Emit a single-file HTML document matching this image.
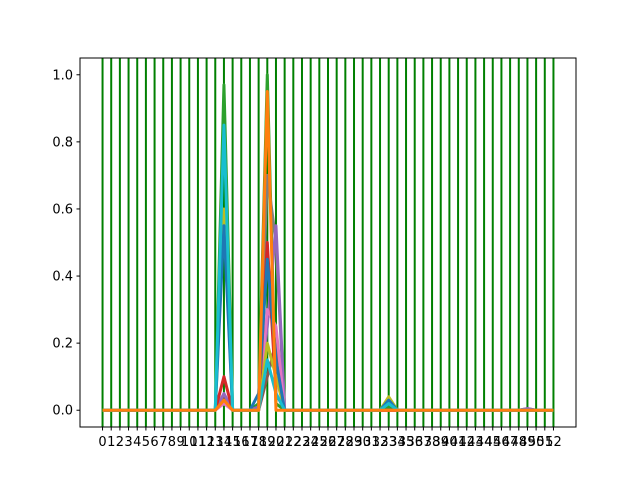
<!DOCTYPE html>
<html><head><meta charset="utf-8"><style>
body{margin:0;background:#fff}
svg{display:block;font-family:"DejaVu Sans","Liberation Sans",sans-serif}
</style></head><body>
<svg id="chart" width="640" height="480" viewBox="0 0 640 480">
<rect width="640" height="480" fill="#fff"/>
<g id="plot"></g>
</svg>
<script>
const categories = Array.from({length:53},(_,i)=>i);
const peakIdx = [14, 18, 19, 20, 33, 49];
const seriesBlue   = [0.55, 0.05, 0.45, 0.15, 0.03, 0];
const seriesCyan   = [0.85, 0.0, 0.15, 0.05, 0.02, 0];
const seriesOlive  = [0.60, 0.0, 0.20, 0.10, 0.04, 0];
const seriesGreen  = [0.97, 0.02, 1.00, 0.02, 0.01, 0];
const seriesRed    = [0.10, 0.0, 0.50, 0.05, 0, 0];
const seriesPurple = [0.05, 0.01, 0.25, 0.55, 0, 0.005];
const seriesPink   = [0.02, 0.0, 0.30, 0.25, 0, 0];
const seriesGray   = [0.03, 0.0, 0.70, 0.50, 0, 0];
const seriesBrown  = [0.04, 0.0, 0.10, 0.20, 0, 0.005];
const seriesOrange = [0.03, 0.0, 0.95, 0.0, 0, 0];
const yTicks = [0.0, 0.2, 0.4, 0.6, 0.8, 1.0];
const yTickLabels = ["0.0","0.2","0.4","0.6","0.8","1.0"];

const allSeries = [
 [seriesGreen,'#2ca02c'],[seriesGray,'#7f7f7f'],[seriesBrown,'#8c564b'],[seriesPurple,'#9467bd'],
 [seriesPink,'#e377c2'],[seriesRed,'#d62728'],[seriesOlive,'#bcbd22'],[seriesBlue,'#1f77b4'],
 [seriesCyan,'#17becf'],[seriesOrange,'#ff7f0e']];
const names=['green','gray','brown','purple','pink','red','olive','blue','cyan','orange'];

const L=80,R=576,T=58,B=427;
const xmin=-2.6,xmax=54.6,ymin=-0.05,ymax=1.05;
const xs=v=>L+(v-xmin)/(xmax-xmin)*(R-L);
const ys=v=>B-(v-ymin)/(ymax-ymin)*(B-T);
const NS='http://www.w3.org/2000/svg';
const g=document.getElementById('plot');
function mk(t,a){const e=document.createElementNS(NS,t);for(const k in a)e.setAttribute(k,a[k]);g.appendChild(e);return e;}

categories.forEach(c=>{
 const l=mk('line',{x1:xs(c),x2:xs(c),y1:T,y2:B,stroke:'#008000','stroke-width':2});
 
 
});
allSeries.forEach(([s,col],si)=>{
 const vals=categories.map(c=>{const k=peakIdx.indexOf(c);return k>=0?s[k]:0;});
 const p=mk('polyline',{points:vals.map((v,i)=>xs(categories[i])+','+ys(v)).join(' '),fill:'none',stroke:col,'stroke-width':3,'stroke-linejoin':'round'});
 
 
});
const fr=mk('rect',{x:L,y:T,width:R-L,height:B-T,fill:'none',stroke:'#000','stroke-width':1});


yTicks.forEach((v,i)=>{
 const y=ys(v);
 const t=mk('line',{x1:L-3.5,x2:L,y1:y,y2:y,stroke:'#000'});
 
 
 const tx=mk('text',{x:L-7,y:y+4.5,'text-anchor':'end','font-size':13});
 tx.textContent=yTickLabels[i];
 
 
});
categories.forEach(c=>{
 const x=xs(c);
 const t=mk('line',{x1:x,x2:x,y1:B,y2:B+3.5,stroke:'#000'});
 
 
 const tx=mk('text',{x:x,y:B+19,'text-anchor':'middle','font-size':13});
 tx.textContent=String(c);
 
 
});
</script>
</body></html>
